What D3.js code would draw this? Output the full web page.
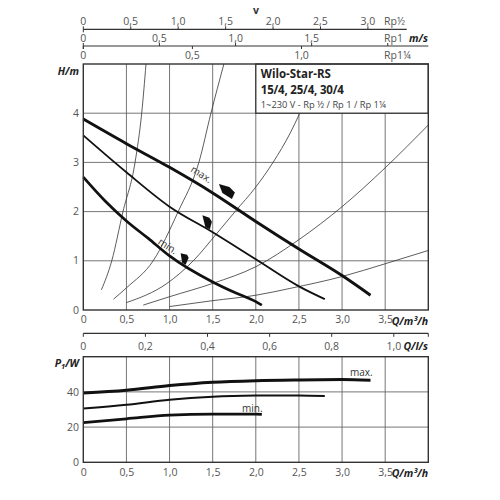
<!DOCTYPE html>
<html>
<head>
<meta charset="utf-8">
<script src="https://cdn.jsdelivr.net/npm/d3@7"></script>
<style>
  body { margin: 0; background: #fff; }
  text { font-family: "Open Sans", sans-serif; }
</style>
</head>
<body>
<div id="wrapper"></div>
<script>
// ---- data ----
const qTicks = [0, 0.5, 1, 1.5, 2, 2.5, 3, 3.5]
const hTicks = [0, 1, 2, 3, 4]
const pTicks = [0, 20, 40]
const lsTicks = [0, 0.2, 0.4, 0.6, 0.8, 1.0]

// velocity scales (m/s) above the chart, with flow per 1 m/s
const vRpHalfTicks = [0, 0.5, 1, 1.5, 2, 2.5, 3]
const vRp1Ticks = [0, 0.5, 1, 1.5, 2]
const vRp1Labels = [0, 0.5, 1, 1.5]
const vRp114Ticks = [0, 0.5, 1]
const qPerVRpHalf = 1.1
const qPerVRp1 = 1.765
const qPerVRp114 = 2.53

// pump head curves [Q m³/h, H m]
const headMax = [[0, 3.88], [0.5, 3.38], [1.0, 2.9], [1.5, 2.38], [2.0, 1.8], [2.5, 1.24], [3.0, 0.7], [3.33, 0.3]]
const headMid = [[0, 3.55], [0.5, 2.8], [1.0, 2.1], [1.5, 1.58], [2.0, 1.03], [2.5, 0.48], [2.8, 0.22]]
const headMin = [[0, 2.7], [0.25, 2.22], [0.5, 1.81], [0.75, 1.46], [1.0, 1.1], [1.5, 0.57], [1.75, 0.36], [2.0, 0.17], [2.07, 0.1]]

// system curves (thin)
const sys1 = [[0.21, 0.41], [0.33, 1.0], [0.46, 2.0], [0.6, 3.0], [0.677, 4.0], [0.727, 5.0]]
const sys2 = [[0.35, 0.22], [0.5, 0.45], [0.81, 1.0], [1.1, 2.0], [1.34, 3.0], [1.48, 4.0], [1.63, 5.0]]
const sys3 = [[0.5, 0.15], [0.97, 0.54], [1.275, 1.0], [1.55, 1.56], [1.76, 2.0], [2.0, 2.5], [2.2, 3.0], [2.4, 3.6], [2.51, 4.0]]
const sys4 = [[0.695, 0.1], [1.0, 0.27], [1.5, 0.54], [2.0, 0.88], [2.5, 1.43], [3.0, 2.1], [3.5, 2.89], [4.0, 3.76]]
const sys5 = [[1.0, 0.07], [1.5, 0.19], [2.0, 0.3], [2.4, 0.44], [3.0, 0.68], [3.5, 0.94], [4.0, 1.21]]

// power curves [Q m³/h, P1 W]
const powerMax = [[0, 39.4], [0.5, 40.9], [1.0, 43.6], [1.5, 45.5], [2.0, 46.4], [2.5, 46.8], [3.0, 47.0], [3.33, 46.6]]
const powerMid = [[0, 30.5], [0.5, 32.7], [1.0, 35.6], [1.5, 37.3], [2.0, 37.9], [2.5, 38.0], [2.8, 37.7]]
const powerMin = [[0, 22.6], [0.5, 24.7], [1.0, 26.8], [1.5, 27.4], [2.0, 27.4], [2.07, 27.2]]

// speed-setting markers and curve labels [Q, H]
const markerPos = [[1.665, 2.41], [1.433, 1.785], [1.175, 1.04]]
const labelPos = [[1.37, 2.76], [0.98, 1.3]]
const labelText = ["max.", "min."]

// ---- dimensions ----
const dimensions = {
    width: 500,
    height: 500,
    left: 83.3,
    right: 428.3,
    headTop: 64,
    headBottom: 310,
    powerTop: 356.7,
    powerBottom: 462.3,
}

const svg = d3.select("#wrapper")
    .append("svg")
    .attr("width", dimensions.width)
    .attr("height", dimensions.height)

const xScale = d3.scaleLinear().domain([0, 4]).range([dimensions.left, dimensions.right])
const hScale = d3.scaleLinear().domain([0, 5]).range([dimensions.headBottom, dimensions.headTop])
const pScale = d3.scaleLinear().domain([0, 60]).range([dimensions.powerBottom, dimensions.powerTop])

const comma = d => d === 0 ? "0" : d3.format(".1f")(d).replace(".", ",")
const tickColor = "#555"
const gridColor = "#666"

// ---- velocity scales on top ----
const vAxes = svg.append("g")
const rpHalfY = 29.3
const rp1Y = 46

vAxes.append("line")
    .attr("x1", xScale(0)).attr("x2", xScale(3.75))
    .attr("y1", rpHalfY).attr("y2", rpHalfY)
    .attr("stroke", "#333").attr("stroke-width", 1.2)
vAxes.selectAll(".t-half").data(vRpHalfTicks).join("line")
    .attr("x1", d => xScale(d * qPerVRpHalf)).attr("x2", d => xScale(d * qPerVRpHalf))
    .attr("y1", d => d === 0 ? rpHalfY + 3 : rpHalfY).attr("y2", rpHalfY - 3)
    .attr("stroke", "#333").attr("stroke-width", 1)
vAxes.selectAll(".l-half").data(vRpHalfTicks).join("text")
    .attr("x", d => xScale(d * qPerVRpHalf)).attr("y", rpHalfY - 4.5)
    .attr("text-anchor", "middle").attr("font-size", 10.5).attr("fill", tickColor)
    .text(comma)

vAxes.append("line")
    .attr("x1", xScale(0)).attr("x2", xScale(4))
    .attr("y1", rp1Y).attr("y2", rp1Y)
    .attr("stroke", "#333").attr("stroke-width", 1.2)
vAxes.selectAll(".t-1").data(vRp1Ticks).join("line")
    .attr("x1", d => xScale(d * qPerVRp1)).attr("x2", d => xScale(d * qPerVRp1))
    .attr("y1", d => d === 0 ? rp1Y + 3 : rp1Y).attr("y2", rp1Y - 3)
    .attr("stroke", "#333").attr("stroke-width", 1)
vAxes.selectAll(".l-1").data(vRp1Labels).join("text")
    .attr("x", d => xScale(d * qPerVRp1)).attr("y", rp1Y - 4.5)
    .attr("text-anchor", "middle").attr("font-size", 10.5).attr("fill", tickColor)
    .text(comma)

vAxes.selectAll(".t-114").data(vRp114Ticks).join("line")
    .attr("x1", d => xScale(d * qPerVRp114)).attr("x2", d => xScale(d * qPerVRp114))
    .attr("y1", rp1Y).attr("y2", rp1Y + 3)
    .attr("stroke", "#333").attr("stroke-width", 1)
vAxes.selectAll(".l-114").data(vRp114Ticks).join("text")
    .attr("x", d => xScale(d * qPerVRp114)).attr("y", rp1Y + 12.5)
    .attr("text-anchor", "middle").attr("font-size", 10.5).attr("fill", tickColor)
    .text(comma)

vAxes.append("text").attr("x", 384).attr("y", rpHalfY - 4.5)
    .attr("font-size", 10.5).attr("fill", tickColor).text("Rp½")
vAxes.append("text").attr("x", 384).attr("y", rp1Y - 4.5)
    .attr("font-size", 10.5).attr("fill", tickColor).text("Rp1")
vAxes.append("text").attr("x", 384).attr("y", rp1Y + 12.5)
    .attr("font-size", 10.5).attr("fill", tickColor).text("Rp1¼")
vAxes.append("text").attr("x", 428).attr("y", rp1Y - 4.5)
    .attr("text-anchor", "end").attr("font-size", 10.5).attr("font-weight", "bold")
    .attr("font-style", "italic").attr("fill", "#222").text("m/s")
vAxes.append("text").attr("x", 256).attr("y", 14)
    .attr("text-anchor", "middle").attr("font-size", 10.5).attr("font-weight", "bold")
    .attr("fill", "#333").text("v")

// ---- head chart ----
const head = svg.append("g")

head.selectAll(".vgrid").data(qTicks.filter(d => d > 0)).join("line")
    .attr("x1", xScale).attr("x2", xScale)
    .attr("y1", hScale(0)).attr("y2", hScale(5))
    .attr("stroke", gridColor).attr("stroke-width", 0.9)
head.selectAll(".hgrid").data(hTicks.filter(d => d > 0)).join("line")
    .attr("x1", xScale(0)).attr("x2", xScale(4))
    .attr("y1", hScale).attr("y2", hScale)
    .attr("stroke", gridColor).attr("stroke-width", 0.9)

const headLine = d3.line()
    .x(d => xScale(d[0]))
    .y(d => hScale(d[1]))
    .curve(d3.curveMonotoneX)

head.selectAll(".sys").data([sys1, sys2, sys3, sys4, sys5]).join("path")
    .attr("d", headLine)
    .attr("fill", "none").attr("stroke", "#333").attr("stroke-width", 0.8)

// type box
const box = head.append("g")
box.append("rect")
    .attr("x", xScale(2)).attr("y", hScale(5))
    .attr("width", xScale(4) - xScale(2)).attr("height", hScale(4) - hScale(5))
    .attr("fill", "#fff").attr("stroke", "#333").attr("stroke-width", 1.3)
box.append("text").attr("x", xScale(2) + 5).attr("y", 78)
    .attr("font-size", 11.5).attr("font-weight", "bold").attr("fill", "#222")
    .text("Wilo-Star-RS")
box.append("text").attr("x", xScale(2) + 5).attr("y", 94)
    .attr("font-size", 11.5).attr("font-weight", "bold").attr("fill", "#222")
    .attr("letter-spacing", -0.2)
    .text("15/4, 25/4, 30/4")
box.append("text").attr("x", xScale(2) + 5).attr("y", 108)
    .attr("font-size", 9.3).attr("fill", "#444")
    .text("1~230 V - Rp ½ / Rp 1 / Rp 1¼")

head.selectAll(".pump").data([headMax, headMid, headMin]).join("path")
    .attr("d", headLine)
    .attr("fill", "none").attr("stroke", "#111")
    .attr("stroke-width", (d, i) => [2.9, 1.8, 2.7][i])

// speed-setting markers (shape offsets in px)
const markerShapes = [
    [[-8, -7.5], [2.5, -4.5], [8, 1], [5, 7.5], [-4.5, 1.5]],
    [[-4.5, -7], [2.5, -4.5], [5, -0.5], [3, 7], [-1.5, 5]],
    [[-4, -5.5], [2.5, -4], [4, -1], [1, 6], [-2.5, 4]],
]
head.selectAll(".marker").data(markerPos).join("polygon")
    .attr("points", (d, i) => markerShapes[i]
        .map(p => [xScale(d[0]) + p[0], hScale(d[1]) + p[1]].join(",")).join(" "))
    .attr("fill", "#111")

head.selectAll(".curve-label").data(labelPos).join("text")
    .attr("transform", d => `translate(${xScale(d[0])},${hScale(d[1])}) rotate(33)`)
    .attr("text-anchor", "middle").attr("dy", "0.35em")
    .attr("font-size", 10).attr("fill", "#333")
    .text((d, i) => labelText[i])

head.append("rect")
    .attr("x", xScale(0)).attr("y", hScale(5))
    .attr("width", xScale(4) - xScale(0)).attr("height", hScale(0) - hScale(5))
    .attr("fill", "none").attr("stroke", "#333").attr("stroke-width", 1.4)

head.selectAll(".hlabel").data(hTicks).join("text")
    .attr("x", 79).attr("y", hScale).attr("dy", "0.35em")
    .attr("text-anchor", "end").attr("font-size", 10.5).attr("fill", tickColor)
    .text(d => d)
head.append("text").attr("x", 79).attr("y", 75)
    .attr("text-anchor", "end").attr("font-size", 10.5).attr("font-weight", "bold")
    .attr("font-style", "italic").attr("fill", "#222").text("H/m")

const xAxisHead = d3.axisBottom(xScale).tickValues(qTicks).tickFormat(comma).tickSize(0).tickPadding(6)
const gxHead = head.append("g")
    .attr("transform", `translate(0,${dimensions.headBottom})`)
    .call(xAxisHead)
gxHead.select(".domain").remove()
gxHead.selectAll("text").attr("font-size", 10.5).attr("fill", tickColor).attr("font-family", "Open Sans")
head.append("text").attr("x", 428).attr("y", 325)
    .attr("text-anchor", "end").attr("font-size", 10.5).attr("font-weight", "bold")
    .attr("font-style", "italic").attr("fill", "#222").text("Q/m³/h")

// ---- l/s scale ----
const lsY = 333.3
const ls = svg.append("g")
ls.append("line")
    .attr("x1", xScale(0)).attr("x2", xScale(4))
    .attr("y1", lsY).attr("y2", lsY)
    .attr("stroke", "#333").attr("stroke-width", 1.2)
ls.selectAll(".ls-tick").data(lsTicks.concat([4 / 3.6])).join("line")
    .attr("x1", d => xScale(d * 3.6)).attr("x2", d => xScale(d * 3.6))
    .attr("y1", lsY).attr("y2", lsY + 3.5)
    .attr("stroke", "#333").attr("stroke-width", 1)
ls.selectAll(".ls-label").data(lsTicks).join("text")
    .attr("x", d => xScale(d * 3.6)).attr("y", lsY + 17)
    .attr("text-anchor", "middle").attr("font-size", 10.5).attr("fill", tickColor)
    .text(comma)
ls.append("text").attr("x", 428).attr("y", lsY + 17)
    .attr("text-anchor", "end").attr("font-size", 10.5).attr("font-weight", "bold")
    .attr("font-style", "italic").attr("fill", "#222").text("Q/l/s")

// ---- power chart ----
const power = svg.append("g")
power.selectAll(".vgrid").data(qTicks.filter(d => d > 0)).join("line")
    .attr("x1", xScale).attr("x2", xScale)
    .attr("y1", pScale(0)).attr("y2", pScale(60))
    .attr("stroke", gridColor).attr("stroke-width", 0.9)
power.selectAll(".hgrid").data(pTicks.filter(d => d > 0)).join("line")
    .attr("x1", xScale(0)).attr("x2", xScale(4))
    .attr("y1", pScale).attr("y2", pScale)
    .attr("stroke", gridColor).attr("stroke-width", 0.9)

const powerLine = d3.line()
    .x(d => xScale(d[0]))
    .y(d => pScale(d[1]))
    .curve(d3.curveMonotoneX)

power.selectAll(".pcurve").data([powerMax, powerMid, powerMin]).join("path")
    .attr("d", powerLine)
    .attr("fill", "none").attr("stroke", "#111")
    .attr("stroke-width", (d, i) => [3, 2, 2.8][i])

power.append("rect")
    .attr("x", xScale(0)).attr("y", pScale(60))
    .attr("width", xScale(4) - xScale(0)).attr("height", pScale(0) - pScale(60))
    .attr("fill", "none").attr("stroke", "#333").attr("stroke-width", 1.4)

power.append("text").attr("x", 350).attr("y", 375.5)
    .attr("font-size", 10).attr("fill", "#333").text("max.")
power.append("text").attr("x", 242).attr("y", 412)
    .attr("font-size", 10).attr("fill", "#333").text("min.")

power.selectAll(".plabel").data(pTicks).join("text")
    .attr("x", 79).attr("y", pScale).attr("dy", "0.35em")
    .attr("text-anchor", "end").attr("font-size", 10.5).attr("fill", tickColor)
    .text(d => d)
const pTitle = power.append("text").attr("x", 79).attr("y", 367)
    .attr("text-anchor", "end").attr("font-size", 10.5).attr("font-weight", "bold")
    .attr("font-style", "italic").attr("fill", "#222")
pTitle.append("tspan").text("P")
pTitle.append("tspan").attr("font-size", 7.5).attr("dy", 2).text("1")
pTitle.append("tspan").attr("dy", -2).text("/W")

const gxPower = power.append("g")
    .attr("transform", `translate(0,${dimensions.powerBottom})`)
    .call(xAxisHead)
gxPower.select(".domain").remove()
gxPower.selectAll("text").attr("font-size", 10.5).attr("fill", tickColor).attr("font-family", "Open Sans")
power.append("text").attr("x", 428).attr("y", 477)
    .attr("text-anchor", "end").attr("font-size", 10.5).attr("font-weight", "bold")
    .attr("font-style", "italic").attr("fill", "#222").text("Q/m³/h")
</script>
</body>
</html>
